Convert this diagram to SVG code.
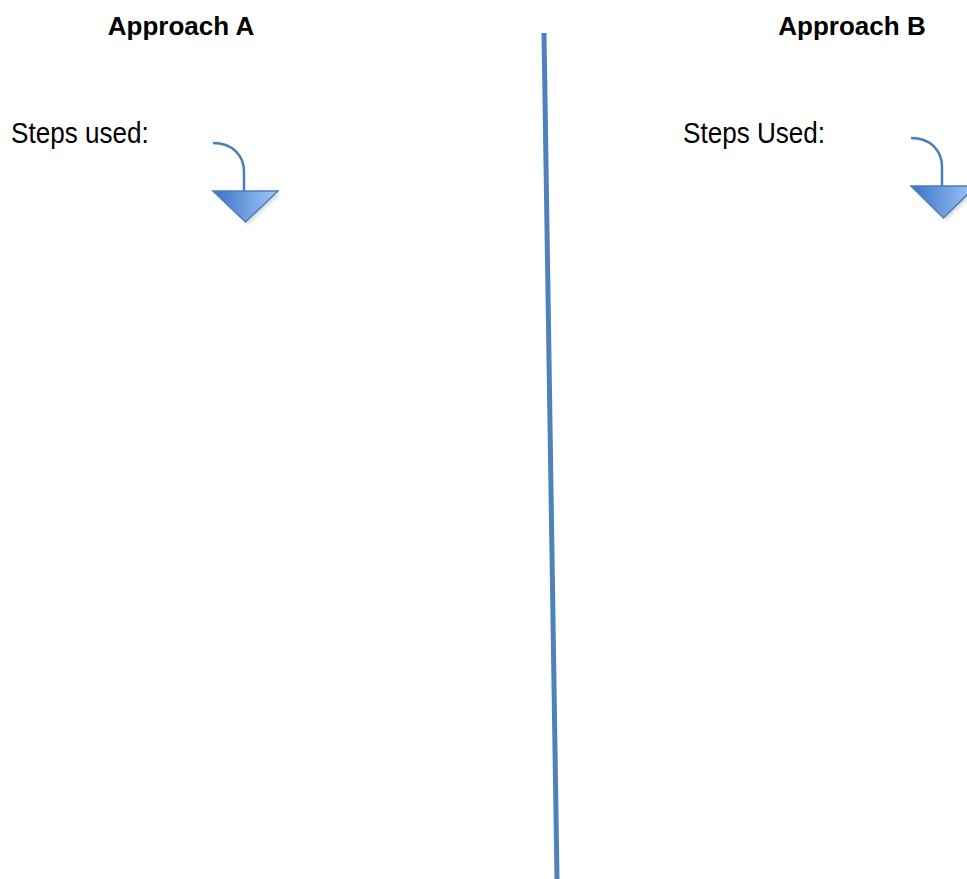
<svg xmlns="http://www.w3.org/2000/svg" width="967" height="879" viewBox="0 0 967 879">
  <style>
    .title { font-family: "Liberation Sans", Arial, sans-serif; font-weight: bold; font-size: 26px; fill: #000; }
    .label { font-family: "Liberation Sans", Arial, sans-serif; font-size: 29px; fill: #000; }
    .curve { fill: none; stroke: #4a7ebb; stroke-width: 2.5; }
    .head { fill: url(#headGrad); stroke: #4a7ebb; stroke-width: 1.5; stroke-linejoin: miter; }
    .shadow { fill: #000; opacity: 0.12; filter: url(#blur); }
    .divider { stroke: #4f81bd; stroke-width: 5; fill: none; }
  </style>
  <defs>
    <linearGradient id="headGrad" x1="0" y1="0" x2="1" y2="0">
      <stop offset="0" stop-color="#3a72c6"/>
      <stop offset="1" stop-color="#a3c7f7"/>
    </linearGradient>
    <filter id="blur" x="-20%" y="-20%" width="140%" height="140%">
      <feGaussianBlur stdDeviation="1.5"/>
    </filter>
  </defs>
  <rect width="967" height="879" fill="#fff"/>

  <g id="approach-a">
    <text class="title" x="181" y="35" text-anchor="middle">Approach A</text>
    <text class="label" transform="translate(11,143) scale(0.9,1)">Steps used:</text>
  </g>
  <g id="arrow-a">
    <polygon class="shadow" points="216,194 281,194 248,225"/>
    <path class="curve" d="M213,143 C232,143 244,155 244,172 L244,191"/>
    <polygon class="head" points="213,191 278,191 245.5,222"/>
  </g>

  <g id="approach-b">
    <text class="title" x="852" y="35" text-anchor="middle">Approach B</text>
    <text class="label" transform="translate(683,143) scale(0.9,1)">Steps Used:</text>
  </g>
  <g id="arrow-b">
    <polygon class="shadow" points="914,189 979,189 946,221"/>
    <path class="curve" d="M911,138 C930,138 942,150 942,167 L942,186"/>
    <polygon class="head" points="911,186 976,186 943.5,218"/>
  </g>

  <g id="connectors">
    <line class="divider" x1="544" y1="33" x2="557" y2="879"/>
  </g>
</svg>
